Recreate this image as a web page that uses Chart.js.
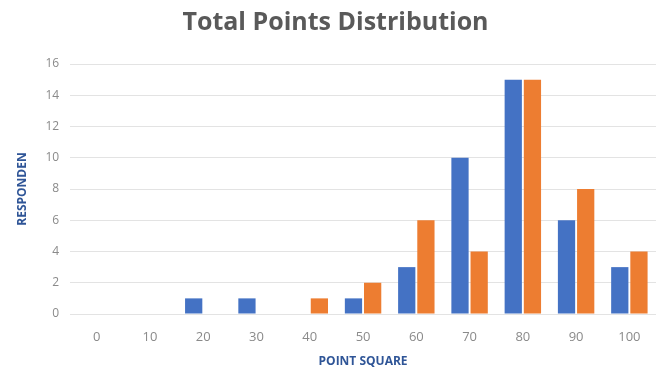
<!DOCTYPE html>
<html lang="en">
<head>
    <meta charset="UTF-8">
    <title>Total Points Distribution</title>
    <script src="https://cdn.jsdelivr.net/npm/chart.js"></script>
    <style>
        body { margin: 0; background: #ffffff; }
        canvas { display: block; }
    </style>
</head>
<body>
    <canvas id="chart" width="656" height="369"></canvas>
    <script>
        // categories and series
        const pointSquares = ["0", "10", "20", "30", "40", "50", "60", "70", "80", "90", "100"];
        const seriesBlue = [0, 0, 1, 1, 0, 1, 3, 10, 15, 6, 3];
        const seriesOrange = [0, 0, 0, 0, 1, 2, 6, 4, 15, 8, 4];

        const ctx = document.getElementById('chart').getContext('2d');
        new Chart(ctx, {
            type: 'bar',
            data: {
                labels: pointSquares,
                datasets: [
                    { label: 'Series 1', data: seriesBlue, backgroundColor: '#4472C4', barPercentage: 0.9, categoryPercentage: 0.72 },
                    { label: 'Series 2', data: seriesOrange, backgroundColor: '#ED7D31', barPercentage: 0.9, categoryPercentage: 0.72 }
                ]
            },
            options: {
                responsive: false,
                animation: false,
                layout: { padding: { left: 15, right: 0, top: 0, bottom: 0 } },
                plugins: {
                    legend: { display: false },
                    tooltip: { enabled: false },
                    title: {
                        display: true,
                        text: 'Total Points Distribution',
                        color: '#595959',
                        font: { family: 'Open Sans', size: 25, weight: 'bold' },
                        padding: { top: 8, bottom: 26 }
                    }
                },
                scales: {
                    x: {
                        grid: { display: false },
                        border: { display: false },
                        ticks: { color: '#8a8a8a', font: { family: 'Open Sans', size: 13 }, padding: 7 },
                        title: { display: true, text: 'POINT SQUARE', color: '#2F5597', font: { family: 'Open Sans', size: 12, weight: 'bold' }, padding: { top: 3, bottom: 0 } }
                    },
                    y: {
                        min: 0,
                        max: 16,
                        ticks: { stepSize: 2, color: '#8a8a8a', font: { family: 'Open Sans', size: 12 }, padding: 11 },
                        grid: { color: '#e3e3e3', drawTicks: false },
                        border: { display: false },
                        title: { display: true, text: 'RESPONDEN', color: '#2F5597', font: { family: 'Open Sans', size: 12, weight: 'bold' }, padding: { top: 0, bottom: 5 } }
                    }
                }
            }
        });
    </script>
</body>
</html>
